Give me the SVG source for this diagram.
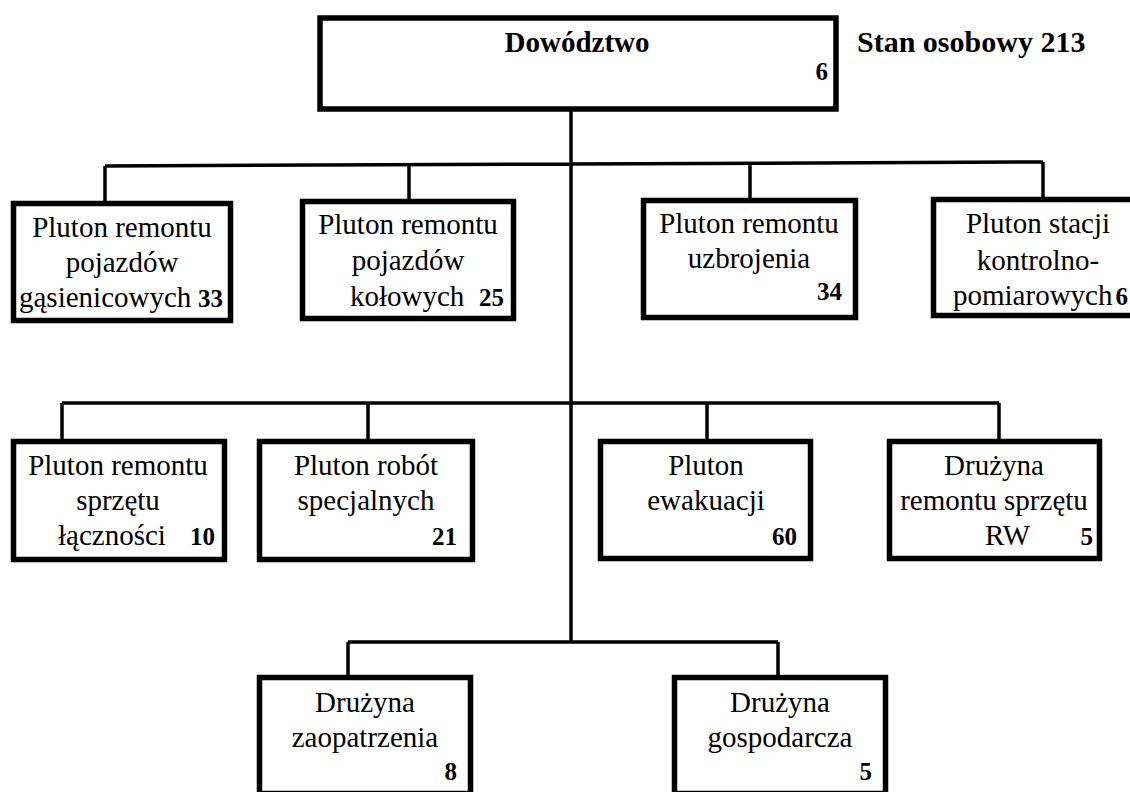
<svg xmlns="http://www.w3.org/2000/svg" width="1130" height="792" viewBox="0 0 1130 792">
<style>
.box{fill:#fff;stroke:#000;stroke-width:5.5}
.ln{fill:none;stroke:#000;stroke-width:3.5}
text{font-family:"Liberation Serif","Times New Roman",serif;fill:#000}
.t{font-size:29px;text-anchor:middle}
.s{font-size:29px}
.h{font-size:29px;font-weight:bold}
.n{font-size:25px;font-weight:bold;text-anchor:end}
</style>
<rect width="1130" height="792" fill="#fff"/>
<g id="connectors">
<path class="ln" d="M571 110 V642 M105 166 L1043 162 M105 166 V202 M409 165 V200 M750 163 V199 M1043 162 V198 M62 403 H999 M62 403 V440 M368 403 V440 M707 403 V440 M999 403 V440 M348 642 H778 M348 642 V676 M778 642 V676"/>
</g>
<g id="dowodztwo">
<rect class="box" x="320" y="18" width="516" height="91"/>
<text class="h" x="577" y="52" text-anchor="middle">Dowództwo</text>
<text class="n" x="828" y="80">6</text>
</g>
<g id="stan">
<text class="h" x="857" y="52" style="font-size:30px">Stan osobowy 213</text>
</g>
<g id="pluton-gasienicowych">
<rect class="box" x="13.5" y="203.5" width="217" height="117"/>
<text class="t" x="122" y="237">Pluton remontu</text>
<text class="t" x="122" y="272">pojazdów</text>
<text class="s" x="19" y="307">gąsienicowych</text>
<text class="n" x="223" y="307">33</text>
</g>
<g id="pluton-kolowych">
<rect class="box" x="302.5" y="201.5" width="211" height="117"/>
<text class="t" x="408" y="234">Pluton remontu</text>
<text class="t" x="408" y="270">pojazdów</text>
<text class="s" x="350" y="306">kołowych</text>
<text class="n" x="504" y="306">25</text>
</g>
<g id="pluton-uzbrojenia">
<rect class="box" x="643.5" y="200.5" width="212" height="117"/>
<text class="t" x="749" y="233">Pluton remontu</text>
<text class="t" x="749" y="268">uzbrojenia</text>
<text class="n" x="842" y="300">34</text>
</g>
<g id="pluton-stacji">
<rect class="box" x="933.5" y="199.5" width="220" height="116"/>
<text class="t" x="1038" y="233">Pluton stacji</text>
<text class="t" x="1038" y="270">kontrolno-</text>
<text class="s" x="953" y="305">pomiarowych</text>
<text class="n" x="1128" y="305">6</text>
</g>
<g id="pluton-lacznosci">
<rect class="box" x="13.5" y="441.5" width="211" height="118"/>
<text class="t" x="118" y="475">Pluton remontu</text>
<text class="t" x="118" y="510">sprzętu</text>
<text class="s" x="58" y="545">łączności</text>
<text class="n" x="215" y="545">10</text>
</g>
<g id="pluton-robot">
<rect class="box" x="259.5" y="441.5" width="213" height="118"/>
<text class="t" x="366" y="475">Pluton robót</text>
<text class="t" x="366" y="510">specjalnych</text>
<text class="n" x="457" y="545">21</text>
</g>
<g id="pluton-ewakuacji">
<rect class="box" x="600.5" y="441.5" width="210" height="117"/>
<text class="t" x="706" y="475">Pluton</text>
<text class="t" x="706" y="510">ewakuacji</text>
<text class="n" x="797" y="545">60</text>
</g>
<g id="druzyna-rw">
<rect class="box" x="889.5" y="441.5" width="210" height="117"/>
<text class="t" x="994" y="475">Drużyna</text>
<text class="t" x="994" y="510">remontu sprzętu</text>
<text class="s" x="985" y="545">RW</text>
<text class="n" x="1093" y="545">5</text>
</g>
<g id="druzyna-zaopatrzenia">
<rect class="box" x="259.5" y="677.5" width="211" height="116"/>
<text class="t" x="365" y="712">Drużyna</text>
<text class="t" x="365" y="747">zaopatrzenia</text>
<text class="n" x="457" y="780">8</text>
</g>
<g id="druzyna-gospodarcza">
<rect class="box" x="674.5" y="677.5" width="211" height="116"/>
<text class="t" x="780" y="712">Drużyna</text>
<text class="t" x="780" y="747">gospodarcza</text>
<text class="n" x="872" y="780">5</text>
</g>
</svg>
